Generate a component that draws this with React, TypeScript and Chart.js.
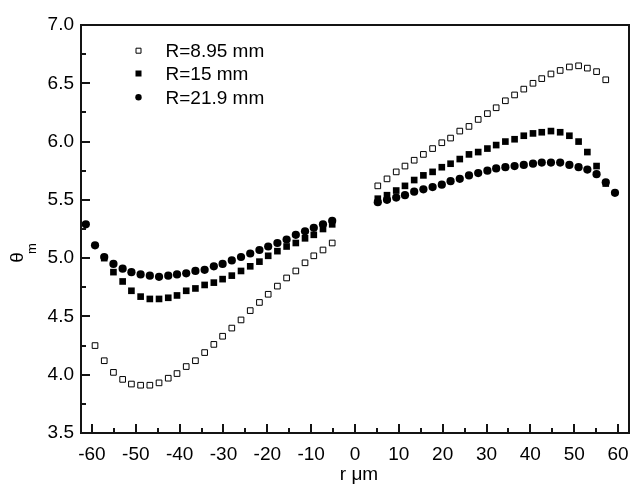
import { useEffect, useRef } from "react";
import { Chart, registerables } from "chart.js";

Chart.register(...registerables);

// ---- data ----
const xLeft = [-61.4, -59.3, -57.2, -55.1, -53.0, -51.0, -48.9, -46.8, -44.7, -42.6, -40.6, -38.5, -36.4, -34.3, -32.2, -30.2, -28.1, -26.0, -23.9, -21.8, -19.8, -17.7, -15.6, -13.5, -11.4, -9.4, -7.3, -5.2];
const xRight = [5.2, 7.3, 9.4, 11.4, 13.5, 15.6, 17.7, 19.8, 21.8, 23.9, 26.0, 28.1, 30.2, 32.2, 34.3, 36.4, 38.5, 40.6, 42.6, 44.7, 46.8, 48.9, 51.0, 53.0, 55.1, 57.2, 59.3];

// R = 8.95 mm (open squares); left branch starts at xLeft[1]
const openLeft = [4.25, 4.12, 4.02, 3.96, 3.92, 3.91, 3.91, 3.93, 3.97, 4.01, 4.07, 4.12, 4.19, 4.26, 4.33, 4.40, 4.47, 4.55, 4.62, 4.69, 4.76, 4.83, 4.89, 4.96, 5.02, 5.07, 5.13];
const openRight = [5.62, 5.68, 5.74, 5.79, 5.84, 5.89, 5.94, 5.99, 6.03, 6.09, 6.13, 6.19, 6.24, 6.29, 6.35, 6.40, 6.45, 6.50, 6.54, 6.58, 6.61, 6.64, 6.65, 6.63, 6.60, 6.53];

// R = 15 mm (filled squares); left branch starts at xLeft[2]
const filledLeft = [5.00, 4.88, 4.80, 4.72, 4.67, 4.65, 4.65, 4.66, 4.68, 4.72, 4.74, 4.77, 4.79, 4.82, 4.85, 4.89, 4.93, 4.97, 5.02, 5.06, 5.10, 5.13, 5.17, 5.20, 5.25, 5.29];
const filledRight = [5.51, 5.54, 5.58, 5.62, 5.67, 5.71, 5.74, 5.78, 5.81, 5.85, 5.89, 5.91, 5.94, 5.97, 6.00, 6.02, 6.05, 6.07, 6.08, 6.09, 6.08, 6.05, 6.00, 5.91, 5.79, 5.64];

// R = 21.9 mm (filled circles)
const circleLeft = [5.29, 5.11, 5.01, 4.95, 4.91, 4.88, 4.86, 4.85, 4.84, 4.85, 4.86, 4.87, 4.89, 4.90, 4.93, 4.95, 4.98, 5.01, 5.04, 5.07, 5.10, 5.13, 5.16, 5.20, 5.23, 5.26, 5.29, 5.32];
const circleRight = [5.48, 5.50, 5.52, 5.54, 5.57, 5.59, 5.61, 5.63, 5.66, 5.68, 5.71, 5.73, 5.75, 5.77, 5.78, 5.79, 5.80, 5.81, 5.82, 5.82, 5.82, 5.80, 5.78, 5.76, 5.72, 5.65, 5.56];

const seriesLabels = ["R=8.95 mm", "R=15 mm", "R=21.9 mm"];
const xTickValues = [-60, -50, -40, -30, -20, -10, 0, 10, 20, 30, 40, 50, 60];
const yTickValues = [3.5, 4.0, 4.5, 5.0, 5.5, 6.0, 6.5, 7.0];
const xTitle = "r μm";
const yTitleMain = "θ";
const yTitleSub = "m";

const FONT = "'Liberation Sans', Arial, Helvetica, sans-serif";

function pts(xs: number[], ys: number[]) {
  return ys.map((y, i) => ({ x: xs[i], y }));
}

const framePlugin = {
  id: "frameBox",
  afterDraw(chart: any) {
    const ctx: CanvasRenderingContext2D = chart.ctx;
    const a = chart.chartArea;
    const xs = chart.scales.x;
    const ys = chart.scales.y;
    const L = Math.round(a.left);
    const R = Math.round(a.right);
    const T = Math.round(a.top);
    const B = Math.round(a.bottom);
    ctx.save();
    ctx.fillStyle = "rgb(20,20,20)";
    ctx.fillRect(L - 1, T - 1, R - L + 2, 2);
    ctx.fillRect(L - 1, B - 1, R - L + 2, 2);
    ctx.fillRect(L - 1, T - 1, 2, B - T + 2);
    ctx.fillRect(R - 1, T - 1, 2, B - T + 2);
    for (let i = 0; i < xTickValues.length; i++) {
      const v = xTickValues[i];
      const px = Math.round(xs.getPixelForValue(v));
      ctx.fillRect(px - 1, B - 9, 2, 9);
      if (i < xTickValues.length - 1) {
        const pm = Math.round(xs.getPixelForValue((v + xTickValues[i + 1]) / 2));
        ctx.fillRect(pm - 1, B - 5, 2, 5);
      }
    }
    for (let i = 0; i < yTickValues.length; i++) {
      const v = yTickValues[i];
      const py = Math.round(ys.getPixelForValue(v));
      ctx.fillRect(L, py - 1, 9, 2);
      if (i < yTickValues.length - 1) {
        const pm = Math.round(ys.getPixelForValue((v + yTickValues[i + 1]) / 2));
        ctx.fillRect(L, pm - 1, 5, 2);
      }
    }
    ctx.restore();
  },
};

const textPlugin = {
  id: "texts",
  afterDraw(chart: any) {
    const ctx: CanvasRenderingContext2D = chart.ctx;
    ctx.save();
    const mx = 138.5;
    const tx = 165.5;
    const rows = [50.7, 73.5, 97.3];
    ctx.font = `19px ${FONT}`;
    ctx.textBaseline = "middle";
    ctx.textAlign = "left";
    seriesLabels.forEach((lab, i) => {
      const y = rows[i];
      ctx.strokeStyle = "black";
      ctx.lineWidth = 1;
      if (i === 0) {
        ctx.fillStyle = "white";
        ctx.beginPath();
        ctx.rect(mx - 2.5, y - 2.5, 5, 5);
        ctx.fill();
        ctx.stroke();
      } else if (i === 1) {
        ctx.fillStyle = "black";
        ctx.fillRect(mx - 3, y - 3, 6, 6);
      } else {
        ctx.fillStyle = "black";
        ctx.beginPath();
        ctx.arc(mx, y, 3.2, 0, Math.PI * 2);
        ctx.fill();
      }
      ctx.fillStyle = "black";
      ctx.fillText(lab, tx, y + 1);
    });
    ctx.textAlign = "center";
    ctx.textBaseline = "alphabetic";
    ctx.fillText(xTitle, 359, 480);
    ctx.save();
    ctx.translate(17.5, 257.5);
    ctx.rotate(-Math.PI / 2);
    ctx.textAlign = "center";
    ctx.textBaseline = "middle";
    ctx.fillText(yTitleMain, 0, 0);
    ctx.restore();
    ctx.save();
    ctx.translate(32, 248.5);
    ctx.rotate(-Math.PI / 2);
    ctx.font = `13px ${FONT}`;
    ctx.textAlign = "center";
    ctx.textBaseline = "middle";
    ctx.fillText(yTitleSub, 0, 0);
    ctx.restore();
    ctx.restore();
  },
};

export default function App() {
  const ref = useRef<HTMLCanvasElement | null>(null);
  const frameRef = useRef<HTMLDivElement | null>(null);
  useEffect(() => {
    if (!ref.current) return;
    const chart = new Chart(ref.current, {
      type: "scatter",
      data: {
        datasets: [
          {
            label: seriesLabels[0],
            data: [...pts(xLeft.slice(1), openLeft), ...pts(xRight, openRight)],
            pointStyle: "rect",
            pointRadius: 4.0,
            backgroundColor: "#fff",
            borderColor: "#000",
            borderWidth: 1,
          },
          {
            label: seriesLabels[1],
            data: [...pts(xLeft.slice(2), filledLeft), ...pts(xRight, filledRight)],
            pointStyle: "rect",
            pointRadius: 4.7,
            backgroundColor: "#000",
            borderColor: "#000",
            borderWidth: 0,
          },
          {
            label: seriesLabels[2],
            data: [...pts(xLeft, circleLeft), ...pts(xRight, circleRight)],
            pointStyle: "circle",
            pointRadius: 4.1,
            backgroundColor: "#000",
            borderColor: "#000",
            borderWidth: 0,
          },
        ],
      },
      options: {
        responsive: false,
        animation: false,
        devicePixelRatio: 1,
        events: [],
        layout: { padding: { top: 25, right: 2, left: 0, bottom: 0 } },
        plugins: { legend: { display: false }, tooltip: { enabled: false } },
        scales: {
          x: {
            type: "linear",
            min: -62.5,
            max: 62.5,
            afterBuildTicks: (s: any) => {
              s.ticks = xTickValues.map((v) => ({ value: v }));
            },
            afterFit: (s: any) => {
              s.height = 51;
              s.paddingLeft = 0;
              s.paddingRight = 0;
            },
            grid: { color: "rgba(0,0,0,0)", drawTicks: false },
            border: { display: false },
            ticks: {
              autoSkip: false,
              maxRotation: 0,
              padding: 10,
              color: "#000",
              font: { family: FONT, size: 19 },
              callback: (v: any) => String(v),
            },
          },
          y: {
            type: "linear",
            min: 3.5,
            max: 7.0,
            afterBuildTicks: (s: any) => {
              s.ticks = yTickValues.map((v) => ({ value: v }));
            },
            afterFit: (s: any) => {
              s.width = 81;
              s.paddingTop = 0;
              s.paddingBottom = 0;
            },
            grid: { color: "rgba(0,0,0,0)", drawTicks: false },
            border: { display: false },
            ticks: {
              padding: 7,
              color: "#000",
              font: { family: FONT, size: 19 },
              callback: (v: any) => Number(v).toFixed(1),
            },
          },
        },
      },
      plugins: [framePlugin, textPlugin],
    } as any);
    // DOM frame placed from the chart's own computed chart area
    const f = frameRef.current;
    if (f) {
      const a = chart.chartArea;
      f.style.left = `${a.left - 0.75}px`;
      f.style.top = `${a.top - 0.75}px`;
      f.style.width = `${a.right - a.left + 1.5}px`;
      f.style.height = `${a.bottom - a.top + 1.5}px`;
      f.style.display = "block";
    }
    return () => chart.destroy();
  }, []);
  return (
    <div style={{ position: "fixed", left: 0, top: 0, width: 634, height: 484, background: "#fff" }}>
      <canvas ref={ref} width={634} height={484} style={{ display: "block" }} />
      <div
        ref={frameRef}
        style={{
          position: "absolute",
          display: "none",
          boxSizing: "border-box",
          border: "1.5px solid #141414",
          pointerEvents: "none",
        }}
      />
    </div>
  );
}
